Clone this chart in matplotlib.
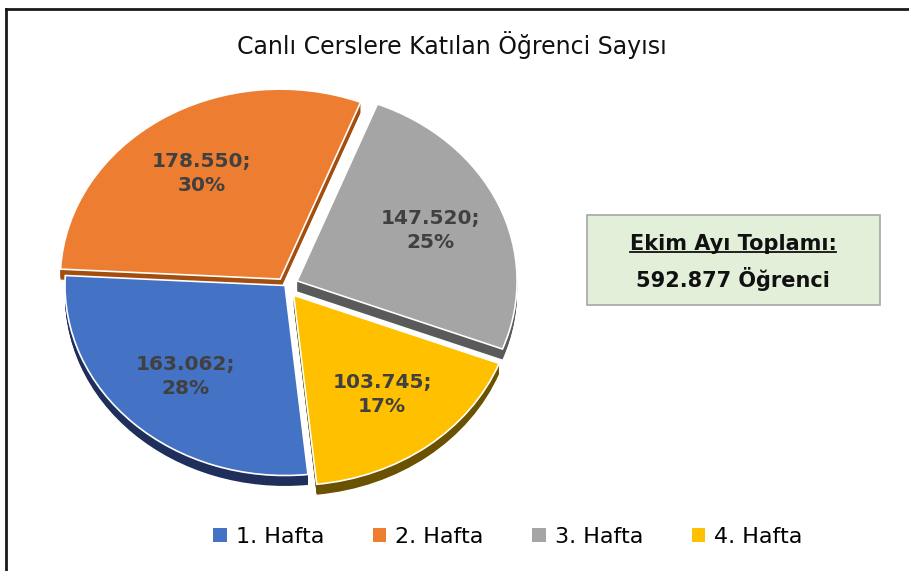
import matplotlib.pyplot as plt
from matplotlib.patches import Patch, Rectangle
from matplotlib.lines import Line2D

# Weekly live-class attendance (October)
weeks = ['1. Hafta', '2. Hafta', '3. Hafta', '4. Hafta']
students = [163062, 178550, 147520, 103745]
top_colors = ['#4472C4', '#ED7D31', '#A5A5A5', '#FFC000']
side_colors = ['#1F2F5C', '#A34E0E', '#5A5A5A', '#6B5200']
explode = [0.0, 0.04, 0.06, 0.065]

total = sum(students)


def fmt_num(v):
    return f"{v:,}".replace(',', '.')


def make_label(pct):
    val = int(round(pct * total / 100.0))
    return f"{fmt_num(val)};\n{pct:.0f}%"


W, H = 909, 571
fig = plt.figure(figsize=(W / 100, H / 100), dpi=100)
fig.patch.set_facecolor('white')

# pie axes (squashed so the pie looks tilted)
ax = fig.add_axes([10 / W, 48 / H, 550 / W, 475 / H])

start = -84
depth = 0.055
n_layers = 12
for k in range(n_layers):
    off = depth * (1 - k / n_layers)
    ax.pie(students, colors=side_colors, explode=explode, startangle=start,
           counterclock=False, center=(0, -off),
           wedgeprops=dict(linewidth=0))

wedges, texts, autotexts = ax.pie(
    students, colors=top_colors, explode=explode, startangle=start,
    counterclock=False, autopct=make_label, pctdistance=0.66,
    wedgeprops=dict(edgecolor='white', linewidth=1.2),
    textprops=dict(color='#404040', fontsize=14.5, fontweight='bold',
                   linespacing=1.35))
for t in autotexts:
    t.set_ha('center')
    t.set_va('center')

ax.set_aspect('auto')
ax.set_xlim(-1.25, 1.25)
ax.set_ylim(-1.25, 1.25)
ax.axis('off')

# title
fig.text(452 / W, 1 - 45 / H, 'Canlı Cerslere Katılan Öğrenci Sayısı',
         ha='center', va='center', fontsize=17, color='#111111')

# total box
fig.patches.append(Rectangle((587 / W, 1 - 305 / H), 293 / W, 90 / H,
                             transform=fig.transFigure, facecolor='#E2F0D9',
                             edgecolor='#A6A6A6', linewidth=1.2))
t1 = fig.text(733 / W, 1 - 244 / H, 'Ekim Ayı Toplamı:', ha='center',
              va='center', fontsize=15, fontweight='bold', color='#111111')
fig.text(733 / W, 1 - 279 / H, f'{fmt_num(total)} Öğrenci', ha='center',
         va='center', fontsize=15, fontweight='bold', color='#111111')

# underline the first line of the box
fig.canvas.draw()
bb = t1.get_window_extent().transformed(fig.transFigure.inverted())
fig.add_artist(Line2D([bb.x0, bb.x1], [bb.y0 + 0.004, bb.y0 + 0.004],
                      transform=fig.transFigure, color='#111111', linewidth=1.3))

# legend
handles = [Patch(facecolor=c, edgecolor='none') for c in top_colors]
fig.legend(handles, weeks, loc='center', bbox_to_anchor=(508 / W, 1 - 537 / H),
           ncol=4, frameon=False, fontsize=16, handlelength=0.6,
           handleheight=0.6, handletextpad=0.4, columnspacing=2.2)

# frame lines on the left and top
fig.add_artist(Line2D([6 / W, 6 / W], [0, 1 - 9 / H], transform=fig.transFigure,
                      color='#1a1a1a', linewidth=2))
fig.add_artist(Line2D([6 / W, 1], [1 - 9 / H, 1 - 9 / H], transform=fig.transFigure,
                      color='#1a1a1a', linewidth=2))

fig.savefig('out.png', dpi=100)
